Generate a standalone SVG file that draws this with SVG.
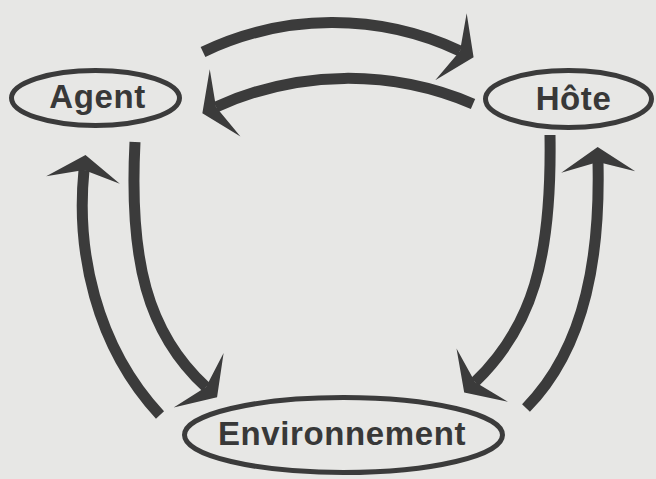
<svg xmlns="http://www.w3.org/2000/svg" width="656" height="479" viewBox="0 0 656 479">
  <style>
    .node ellipse { fill: none; stroke: #3b3b3b; stroke-width: 5; }
    .node text { font-family: "Liberation Sans", Arial, sans-serif; font-weight: bold; font-size: 33px; fill: #383838; text-anchor: middle; letter-spacing: 0.6px; }
    .conn path { fill: none; stroke: #3b3b3b; stroke-width: 11; stroke-linecap: butt; marker-end: url(#head); }
  </style>
  <defs>
    <marker id="head" markerUnits="userSpaceOnUse" orient="auto" refX="0" refY="0" markerWidth="80" markerHeight="80" overflow="visible">
      <path d="M15,0 L-10,-37 L0,0 L-10,37 Z" fill="#3b3b3b"/>
    </marker>
  </defs>
  <rect width="656" height="479" fill="#e7e7e5"/>
  <g id="connectors" class="conn">
    <path id="agent-hote" d="M203,52 A300,300 0 0 1 460,51"/>
    <path id="hote-agent" d="M473,104 A318,318 0 0 0 216,107"/>
    <path id="agent-env" d="M135,142 C129,260 147,333 206,387"/>
    <path id="env-agent" d="M160,415 C95,345 76,250 84,170"/>
    <path id="hote-env" d="M550,135 C552,260 532,327 475,382"/>
    <path id="env-hote" d="M526,408 C588,345 600,250 598,162"/>
  </g>
  <g id="agent" class="node">
    <ellipse cx="95.5" cy="98" rx="84" ry="27.5"/>
    <text x="97.5" y="108">Agent</text>
  </g>
  <g id="hote" class="node">
    <ellipse cx="568.5" cy="99" rx="83" ry="28.5"/>
    <text x="573.5" y="110">Hôte</text>
  </g>
  <g id="environnement" class="node">
    <ellipse cx="343.5" cy="435" rx="159" ry="37.5"/>
    <text x="342" y="445">Environnement</text>
  </g>
</svg>
